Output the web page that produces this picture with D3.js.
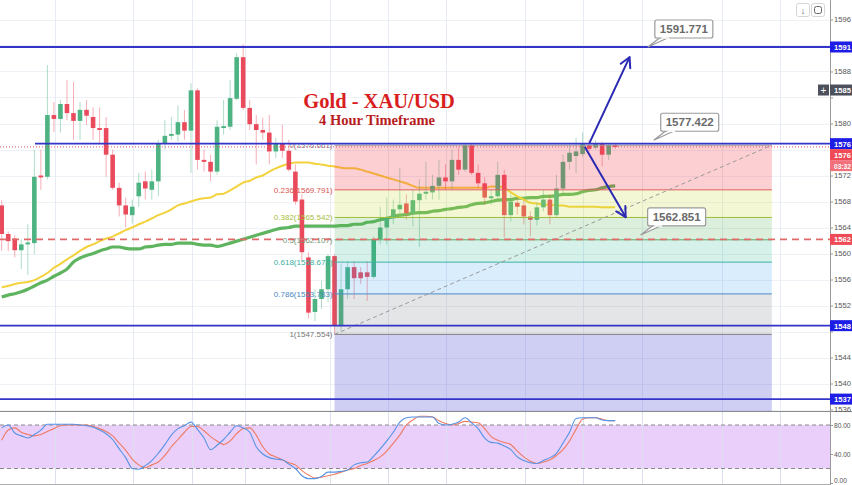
<!DOCTYPE html>
<html>
<head>
<meta charset="utf-8">
<script src="https://cdn.jsdelivr.net/npm/d3@7"></script>
<style>
  html, body { margin: 0; padding: 0; background: #fff; }
  svg { display: block; }
</style>
</head>
<body>
<svg id="chart" width="852" height="485"></svg>
<script>
// ---- XAU/USD 4h candles (bar index = position on the time axis) ----
const opens = [
  1567.4,1563.0,1562.3,1560.5,1561.4,1561.6,1572.0,1571.8,1581.3,1580.7,
  1583.0,1581.6,1580.4,1582.1,1581.0,1579.3,1579.3,1575.2,1570.1,1567.4,
  1565.9,1568.8,1571.1,1569.8,1571.1,1577.0,1578.1,1578.3,1580.2,1578.9,
  1585.1,1574.4,1574.1,1572.6,1579.3,1579.5,1583.8,1590.2,1582.4,1579.9,
  1579.0,1578.6,1575.7,1576.9,1575.8,1572.6,1568.3,1559.4,1551.0,1553.0,
  1554.5,1559.6,1548.9,1554.5,1557.9,1557.1,1557.1,1556.4,1562.2,1564.0,
  1565.4,1566.8,1567.7,1566.2,1568.2,1569.2,1569.4,1570.4,1571.7,1571.1,
  1574.4,1572.9,1576.7,1572.4,1570.8,1568.5,1568.8,1572.1,1565.9,1567.8,
  1567.4,1565.7,1565.2,1567.1,1568.3,1565.9,1570.0,1574.1,1575.0,1575.3,
  1576.7,1576.3,1576.9,1575.2,1576.7
];
const highs = [
  1568.2,1563.4,1562.8,1562.2,1564.5,1576.0,1576.0,1589.0,1583.3,1583.6,
  1586.7,1586.4,1583.3,1583.6,1582.5,1582.5,1581.0,1576.0,1570.9,1568.6,
  1568.3,1572.4,1572.6,1572.9,1577.5,1580.5,1581.0,1582.8,1582.1,1586.2,
  1585.4,1576.0,1575.2,1580.5,1583.6,1586.7,1590.8,1592.2,1583.6,1581.3,
  1580.9,1581.3,1577.8,1579.8,1577.5,1573.7,1569.1,1560.2,1554.5,1555.8,
  1559.9,1559.9,1558.4,1558.8,1558.8,1557.9,1558.8,1562.6,1567.2,1568.6,
  1568.3,1573.2,1569.1,1569.8,1571.4,1574.1,1572.1,1574.4,1573.7,1576.0,
  1576.3,1577.0,1577.0,1573.7,1571.7,1569.8,1574.1,1572.9,1569.1,1568.6,
  1568.3,1566.5,1567.8,1569.8,1569.1,1572.1,1575.2,1576.7,1577.8,1578.6,
  1577.5,1577.5,1577.2,1577.0,1577.0
];
const lows = [
  1560.4,1560.4,1559.4,1557.6,1556.7,1559.9,1569.8,1571.4,1578.7,1578.6,
  1580.5,1577.5,1577.5,1579.8,1577.5,1577.0,1571.8,1569.8,1565.7,1564.0,
  1564.6,1567.2,1568.3,1568.3,1568.8,1576.0,1577.5,1577.2,1577.5,1572.4,
  1572.9,1572.6,1571.1,1572.1,1578.3,1579.0,1583.6,1582.1,1579.0,1573.7,
  1577.5,1573.7,1574.7,1574.7,1572.6,1567.5,1558.8,1550.0,1549.6,1551.5,
  1552.5,1547.554,1548.1,1553.0,1553.0,1555.3,1552.7,1556.1,1561.4,1561.4,
  1564.5,1566.2,1565.2,1564.2,1561.0,1568.3,1568.3,1568.3,1569.8,1569.8,
  1572.1,1572.6,1572.1,1570.1,1567.5,1567.5,1568.3,1562.5,1564.9,1566.0,
  1564.5,1562.6,1564.3,1566.5,1564.5,1565.6,1569.1,1572.9,1572.4,1574.9,
  1575.7,1576.0,1573.4,1574.4,1576.1
];
const closes = [
  1563.0,1561.9,1560.5,1561.4,1561.7,1571.8,1571.7,1581.3,1580.7,1583.0,
  1581.6,1580.4,1582.1,1581.2,1579.3,1579.0,1575.2,1570.1,1567.4,1566.0,
  1567.2,1570.9,1570.0,1571.1,1577.0,1578.1,1578.4,1580.2,1578.9,1585.1,
  1574.4,1574.1,1572.6,1579.5,1579.6,1583.9,1590.2,1582.4,1579.9,1579.0,
  1578.6,1575.7,1576.9,1575.8,1572.9,1568.0,1560.2,1550.9,1553.0,1554.5,
  1559.6,1549.0,1554.5,1557.9,1556.2,1556.2,1556.4,1562.2,1564.0,1565.6,
  1566.8,1567.5,1566.2,1568.2,1569.2,1569.5,1570.4,1571.7,1571.1,1574.4,
  1572.9,1576.7,1572.4,1570.8,1568.6,1568.8,1572.1,1565.9,1568.0,1567.2,
  1565.7,1565.2,1567.1,1568.3,1565.9,1570.0,1574.1,1575.5,1575.7,1576.9,
  1576.1,1576.9,1575.2,1576.7,1576.4
];

// fast moving average (yellow) and slow moving average (green)
const maFast = [
  1554.8,1555.0,1555.3,1555.5,1555.6,1555.9,1556.4,1557.0,1557.8,1558.4,
  1559.1,1559.7,1560.4,1561.0,1561.4,1561.9,1562.3,1562.6,1563.1,1563.6,
  1564.0,1564.5,1564.9,1565.4,1565.9,1566.3,1566.8,1567.4,1567.7,1568.0,
  1568.3,1568.5,1568.6,1569.1,1569.2,1569.7,1570.3,1570.9,1571.2,1571.7,
  1572.0,1572.6,1573.1,1573.5,1573.8,1574.0,1574.0,1574.0,1573.8,1573.7,
  1573.5,1573.4,1573.2,1573.1,1573.1,1572.9,1572.6,1572.3,1572.0,1571.7,
  1571.4,1571.1,1570.8,1570.4,1570.1,1570.1,1570.1,1570.1,1570.1,1570.1,
  1570.1,1570.1,1570.1,1570.1,1570.1,1570.3,1570.3,1570.1,1569.4,1568.8,
  1568.3,1567.8,1567.7,1567.5,1567.5,1567.4,1567.4,1567.2,1567.2,1567.2,
  1567.2,1567.2,1567.1,1567.1,1567.1
];
const maSlow = [
  1553.3,1553.6,1553.8,1554.1,1554.5,1555.0,1555.5,1555.9,1556.5,1557.0,
  1557.6,1558.7,1559.3,1559.7,1560.0,1560.4,1560.7,1561.0,1561.0,1560.8,
  1560.7,1560.7,1561.0,1561.1,1561.3,1561.4,1561.4,1561.6,1561.6,1561.6,
  1561.4,1561.3,1561.3,1561.1,1561.3,1561.6,1561.9,1562.2,1562.5,1562.8,
  1563.1,1563.4,1563.7,1563.9,1564.0,1564.2,1564.2,1564.2,1564.2,1564.2,
  1564.2,1564.2,1564.3,1564.3,1564.5,1564.5,1564.8,1564.9,1565.2,1565.4,
  1565.7,1565.9,1566.0,1566.2,1566.3,1566.3,1566.5,1566.6,1566.8,1566.9,
  1567.1,1567.2,1567.5,1567.7,1567.8,1568.0,1568.2,1568.3,1568.3,1568.5,
  1568.5,1568.6,1568.6,1568.8,1568.8,1568.9,1569.1,1569.1,1569.2,1569.5,
  1569.7,1569.8,1570.1,1570.3,1570.4
];

// stochastic oscillator %K (blue) and %D (red)
const stochK = [
  76,80,69,65,62,67,73,81,81,81,
  81,81,80,79,77,73,68,60,47,35,
  20,19,24,31,41,53,66,75,79,84,
  74,62,46,52,60,70,79,76,70,50,
  40,35,33,32,26,20,10,6,6,9,
  15,15,16,18,25,28,29,37,47,58,
  70,84,90,91,91,91,91,82,80,81,
  84,90,83,75,62,56,55,51,46,36,
  31,28,27,31,35,41,55,70,89,90,
  90,90,87,86,86
];
const stochD = [
  59,73,76,70,67,65,67,71,75,79,
  80,80,80,80,78,75,71,65,55,45,
  33,25,21,25,29,38,50,60,70,78,
  78,72,64,58,53,58,68,75,76,66,
  50,40,36,32,28,25,17,11,7,8,
  10,12,15,18,20,24,27,31,36,44,
  55,66,80,87,92,92,91,86,82,80,
  82,85,84,83,75,64,59,56,53,44,
  36,30,27,29,32,38,46,58,74,88,
  90,90,88,86,86
];

// price axis ticks and oscillator axis ticks
const priceTicks = d3.range(1536, 1597, 4);
const stochTicks = [80, 40, 0];
const stochBands = [80, 20];

// session boundaries (bar index) for vertical grid lines
const sessionBars = [8.2, 20.1, 29.1, 37.3, 50.3, 59.2, 68.1, 80.2, 89.1, 98.1, 110.3, 119.2];

// Fibonacci retracement anchored from swing low (bar 51) to swing high (bar 118)
const fibLow = 1547.554, fibHigh = 1576.6606;
const fibStartBar = 51, fibEndBar = 118;
const fibLevels = [0, 0.236, 0.382, 0.5, 0.618, 0.786, 1, 1.618];
const fibLineColors = ["#9a9a9a","#e0605f","#9fbf3c","#5faa6a","#3db3a2","#4f8cc6","#808080","#5050c8"];
const fibFills = [
  "rgba(242,54,69,0.24)",
  "rgba(205,220,57,0.22)",
  "rgba(76,175,80,0.20)",
  "rgba(8,170,130,0.17)",
  "rgba(33,150,243,0.17)",
  "rgba(120,123,134,0.20)",
  "rgba(63,63,210,0.25)"
];
const fibTextColors = ["#8a8a8a","#d9534f","#a8c03c","#6f9a6f","#38b0a0","#4a88c0","#777777"];

// horizontal support / resistance levels
const supportLevels = [1591.771, 1576.9, 1548.9, 1537.6];
const pivotLevel = 1562.167;
const lastPrice = closes[closes.length - 1];
const crossPrice = 1585.15;

// projected paths: [bar, price]
const upPath = [[90.1, 1577.1], [96.2, 1590.2]];
const downPath = [[89.4, 1576.3], [95.6, 1565.6]];

// price callouts: value and bar of the pointer tip
const calloutValues = [1591.771, 1577.422, 1562.851];
const calloutBars = [99.0, 99.9, 97.9];

// ---------------------------------------------------------------
const svg = d3.select("#chart");
const W = 852, H = 485;
const axisX = 830;
const mainBottom = 411, stochTop = 412;

const x = d3.scaleLinear().domain([0, 94]).range([1.7, 615.2]);
const y = d3.scaleLinear().domain([1536, 1596]).range([409.5, 19.5]);
const ys = d3.scaleLinear().domain([0, 100]).range([483, 410.5]);

const FONT = "'Liberation Sans', Arial, sans-serif";

const defs = svg.append("defs");
defs.append("clipPath").attr("id", "clipMain")
  .append("rect").attr("x", 0).attr("y", 0).attr("width", axisX).attr("height", mainBottom);
defs.append("clipPath").attr("id", "clipStoch")
  .append("rect").attr("x", 0).attr("y", stochTop).attr("width", axisX).attr("height", H - stochTop);

svg.append("rect").attr("width", W).attr("height", H).attr("fill", "#ffffff");

// ---- main pane ----
const main = svg.append("g").attr("clip-path", "url(#clipMain)");

// grid
main.append("g").selectAll("line").data(priceTicks).join("line")
  .attr("x1", 0).attr("x2", axisX)
  .attr("y1", d => Math.round(y(d)) + 0.5).attr("y2", d => Math.round(y(d)) + 0.5)
  .attr("stroke", "#eef1f6").attr("stroke-width", 1);
main.append("g").selectAll("line").data(sessionBars).join("line")
  .attr("x1", d => Math.round(x(d)) + 0.5).attr("x2", d => Math.round(x(d)) + 0.5)
  .attr("y1", 0).attr("y2", mainBottom)
  .attr("stroke", "#e6ebf4").attr("stroke-width", 1);

// moving averages
const maLine = d3.line().x((d, i) => x(i)).y(d => y(d)).curve(d3.curveMonotoneX);
main.append("path").attr("d", maLine(maSlow))
  .attr("fill", "none").attr("stroke", "#5fb45f").attr("stroke-width", 3.2)
  .attr("stroke-linejoin", "round");
main.append("path").attr("d", maLine(maFast))
  .attr("fill", "none").attr("stroke", "#f3d23c").attr("stroke-width", 2)
  .attr("stroke-linejoin", "round");

// candles
const up = "#4db382", dn = "#ea4b5c";
const candles = main.append("g");
const bw = 4.6;
opens.forEach((o, i) => {
  const c = closes[i], bull = c >= o;
  const col = bull ? up : dn;
  const cx = x(i);
  candles.append("line")
    .attr("x1", cx).attr("x2", cx)
    .attr("y1", y(highs[i])).attr("y2", y(lows[i]))
    .attr("stroke", col).attr("stroke-opacity", 0.45).attr("stroke-width", 1);
  const top = y(Math.max(o, c)), bot = y(Math.min(o, c));
  candles.append("rect")
    .attr("x", cx - bw / 2).attr("width", bw)
    .attr("y", top).attr("height", Math.max(1.2, bot - top))
    .attr("fill", col);
});

// Fibonacci retracement zones
const fibPrice = l => fibHigh - (fibHigh - fibLow) * l;
const fx0 = x(fibStartBar), fx1 = x(fibEndBar);
const fib = main.append("g");
for (let k = 0; k < fibLevels.length - 1; k++) {
  const yA = y(fibPrice(fibLevels[k])), yB = y(fibPrice(fibLevels[k + 1]));
  fib.append("rect").attr("x", fx0).attr("width", fx1 - fx0)
    .attr("y", yA).attr("height", yB - yA).attr("fill", fibFills[k]);
}
fibLevels.forEach((l, k) => {
  fib.append("line").attr("x1", fx0).attr("x2", fx1)
    .attr("y1", y(fibPrice(l))).attr("y2", y(fibPrice(l)))
    .attr("stroke", fibLineColors[k]).attr("stroke-width", 1);
});
fibLevels.slice(0, 7).forEach((l, k) => {
  fib.append("text")
    .attr("x", fx0 - 2).attr("y", y(fibPrice(l)) + 3)
    .attr("text-anchor", "end")
    .attr("font-family", FONT).attr("font-size", 8)
    .attr("fill", fibTextColors[k])
    .text(`${l}(${fibPrice(l).toFixed(3)})`);
});
fib.append("line")
  .attr("x1", x(fibStartBar)).attr("y1", y(fibLow))
  .attr("x2", x(fibEndBar)).attr("y2", y(fibHigh))
  .attr("stroke", "#9a9a9a").attr("stroke-width", 1).attr("stroke-dasharray", "4,3");

// horizontal levels
main.append("line").attr("x1", 0).attr("x2", axisX)
  .attr("y1", y(pivotLevel)).attr("y2", y(pivotLevel))
  .attr("stroke", "#e06a6a").attr("stroke-width", 1.6).attr("stroke-dasharray", "7,5");
main.append("line").attr("x1", 0).attr("x2", axisX)
  .attr("y1", y(lastPrice)).attr("y2", y(lastPrice))
  .attr("stroke", "#e25563").attr("stroke-width", 1).attr("stroke-dasharray", "1,2");
main.append("g").selectAll("line").data(supportLevels).join("line")
  .attr("x1", (d, i) => i === 1 ? 35 : 0).attr("x2", axisX)
  .attr("y1", d => y(d)).attr("y2", d => y(d))
  .attr("stroke", "#3434c8").attr("stroke-width", 1.8);

// projected paths
function drawArrow(g, p0, p1) {
  const x1 = x(p0[0]), y1 = y(p0[1]), x2 = x(p1[0]), y2 = y(p1[1]);
  const a = Math.atan2(y2 - y1, x2 - x1), L = 11, s = 0.5;
  g.append("line").attr("x1", x1).attr("y1", y1).attr("x2", x2).attr("y2", y2);
  g.append("path").attr("fill", "none")
    .attr("d", `M${x2 - L * Math.cos(a - s)},${y2 - L * Math.sin(a - s)} L${x2},${y2} L${x2 - L * Math.cos(a + s)},${y2 - L * Math.sin(a + s)}`);
}
const arrows = main.append("g").attr("stroke", "#2a2ab4").attr("stroke-width", 2)
  .attr("stroke-linecap", "round").attr("stroke-linejoin", "round");
drawArrow(arrows, upPath[0], upPath[1]);
drawArrow(arrows, downPath[0], downPath[1]);

// callouts
const callouts = main.append("g");
calloutValues.forEach((v, i) => {
  const tx = x(calloutBars[i]), ty = y(v);
  const bx = tx + 7, bb = ty - 9, bwid = 58, bh = 18;
  callouts.append("path")
    .attr("d", `M${bx + 6},${bb - 1} L${tx},${ty} L${bx + 15},${bb - 1}`)
    .attr("fill", "#ffffff").attr("stroke", "#9a9a9a").attr("stroke-width", 1.2);
  callouts.append("rect").attr("x", bx).attr("y", bb - bh).attr("width", bwid).attr("height", bh)
    .attr("rx", 2).attr("fill", "#ffffff").attr("stroke", "#9a9a9a").attr("stroke-width", 1.2);
  callouts.append("path")
    .attr("d", `M${bx + 6.6},${bb} L${bx + 14.4},${bb}`)
    .attr("stroke", "#ffffff").attr("stroke-width", 1.6);
  callouts.append("text")
    .attr("x", bx + bwid / 2).attr("y", bb - 5)
    .attr("text-anchor", "middle")
    .attr("font-family", FONT).attr("font-size", 11.5).attr("font-weight", "bold")
    .attr("fill", "#6a6a6a").text(v.toFixed(3));
});

// title
const SERIF = "'Liberation Serif', 'Times New Roman', serif";
main.append("text").attr("x", 379).attr("y", 108).attr("text-anchor", "middle")
  .attr("font-family", SERIF).attr("font-size", 20.5).attr("font-weight", "bold")
  .attr("fill", "#d81e1e").text("Gold - XAU/USD");
main.append("text").attr("x", 377).attr("y", 124.5).attr("text-anchor", "middle")
  .attr("font-family", SERIF).attr("font-size", 14.5).attr("font-weight", "bold")
  .attr("fill", "#b81c1c").text("4 Hour Timeframe");

// ---- stochastic pane ----
const st = svg.append("g").attr("clip-path", "url(#clipStoch)");
st.append("rect").attr("x", 0).attr("width", axisX)
  .attr("y", ys(80)).attr("height", ys(20) - ys(80)).attr("fill", "#e9cffa");
st.append("g").selectAll("line").data(sessionBars).join("line")
  .attr("x1", d => Math.round(x(d)) + 0.5).attr("x2", d => Math.round(x(d)) + 0.5)
  .attr("y1", stochTop).attr("y2", H)
  .attr("stroke", "#dcdfee").attr("stroke-width", 1);
st.append("g").selectAll("line").data(stochBands).join("line")
  .attr("x1", 0).attr("x2", axisX)
  .attr("y1", d => ys(d)).attr("y2", d => ys(d))
  .attr("stroke", "#8a8a8a").attr("stroke-width", 1).attr("stroke-dasharray", "4,3");
const stLine = d3.line().x((d, i) => x(i)).y(d => ys(d)).curve(d3.curveMonotoneX);
st.append("path").attr("d", stLine(stochD)).attr("fill", "none")
  .attr("stroke", "#ef7a62").attr("stroke-width", 1.1);
st.append("path").attr("d", stLine(stochK)).attr("fill", "none")
  .attr("stroke", "#5593e4").attr("stroke-width", 1.1);

// pane separator and axis line
svg.append("line").attr("x1", 0).attr("x2", W).attr("y1", 411.5).attr("y2", 411.5)
  .attr("stroke", "#8c8c8c").attr("stroke-width", 1);
svg.append("line").attr("x1", 0).attr("x2", axisX).attr("y1", 484.5).attr("y2", 484.5)
  .attr("stroke", "#b0b0b0").attr("stroke-width", 1);
svg.append("line").attr("x1", axisX + 0.5).attr("x2", axisX + 0.5).attr("y1", 0).attr("y2", H)
  .attr("stroke", "#9a9a9a").attr("stroke-width", 1);

// ---- right axis ----
const axisG = svg.append("g").attr("transform", `translate(${axisX},0)`);

// positions of the price tags, used to keep tick labels from running under them
const lastY = Math.max(y(lastPrice), y(supportLevels[1]) + 11);
const tagYs = supportLevels.map(v => y(v))
  .concat([y(pivotLevel), lastY, lastY + 11, y(crossPrice)]);
const freeTicks = priceTicks.filter(t => tagYs.every(ty => Math.abs(y(t) - ty) > 9));

const priceAxis = d3.axisRight(y).tickValues(priceTicks).tickSize(3).tickPadding(1)
  .tickFormat(d => freeTicks.includes(d) ? d3.format("d")(d) : "");
axisG.append("g").call(priceAxis).call(g => {
  g.select(".domain").remove();
  g.selectAll("line").attr("stroke", "#9a9a9a");
  g.selectAll("text").attr("font-family", FONT).attr("font-size", 7.6).attr("fill", "#555");
});
const stochAxis = d3.axisRight(ys).tickValues(stochTicks).tickSize(3).tickPadding(1)
  .tickFormat(d3.format(".2f"));
axisG.append("g").call(stochAxis).call(g => {
  g.select(".domain").remove();
  g.selectAll("line").attr("stroke", "#9a9a9a");
  g.selectAll("text").attr("font-family", FONT).attr("font-size", 6.6).attr("fill", "#555");
  // the lowest label sits on the bottom edge: lift it so it stays whole
  g.selectAll(".tick").filter(d => d === 0).select("text").attr("dy", "-0.1em");
});

// price tags on the axis (integer part of the level)
const tagFmt = v => String(Math.floor(v));
function tag(cy, text, bg, size) {
  axisG.append("rect").attr("x", 0).attr("y", cy - 5.5).attr("width", W - axisX).attr("height", 11)
    .attr("fill", bg);
  axisG.append("text").attr("x", 4).attr("y", cy + 3)
    .attr("font-family", FONT).attr("font-size", size || 7.6).attr("font-weight", "bold")
    .attr("fill", "#ffffff").text(text);
}
supportLevels.forEach(v => tag(y(v), tagFmt(v), "#1d1de6"));
tag(y(pivotLevel), tagFmt(pivotLevel), "#ef4a56");
tag(lastY, tagFmt(lastPrice), "#ef4a56");
tag(lastY + 11, "03:32", "#f2707c", 6.6);

// crosshair readout with its "+" button
tag(y(crossPrice), tagFmt(crossPrice), "#4c515c");
svg.append("rect").attr("x", 818).attr("y", y(crossPrice) - 5.5).attr("width", 11).attr("height", 11)
  .attr("fill", "#4c515c");
svg.append("text").attr("x", 823.5).attr("y", y(crossPrice) + 3.5).attr("text-anchor", "middle")
  .attr("font-family", FONT).attr("font-size", 10).attr("fill", "#fff").text("+");

// toolbar buttons
const btn = svg.append("g");
[[796, "↓"], [811, ""]].forEach(([bx, t]) => {
  btn.append("rect").attr("x", bx + 0.5).attr("y", 3.5).attr("width", 13).attr("height", 13)
    .attr("rx", 2).attr("fill", "#fff").attr("stroke", "#d6d6d6");
  if (t) btn.append("text").attr("x", bx + 7).attr("y", 14).attr("text-anchor", "middle")
    .attr("font-family", FONT).attr("font-size", 9).attr("fill", "#555").text(t);
});
btn.append("rect").attr("x", 814.5).attr("y", 6.5).attr("width", 7).attr("height", 7)
  .attr("rx", 2).attr("fill", "none").attr("stroke", "#666").attr("stroke-width", 1);
</script>
</body>
</html>
